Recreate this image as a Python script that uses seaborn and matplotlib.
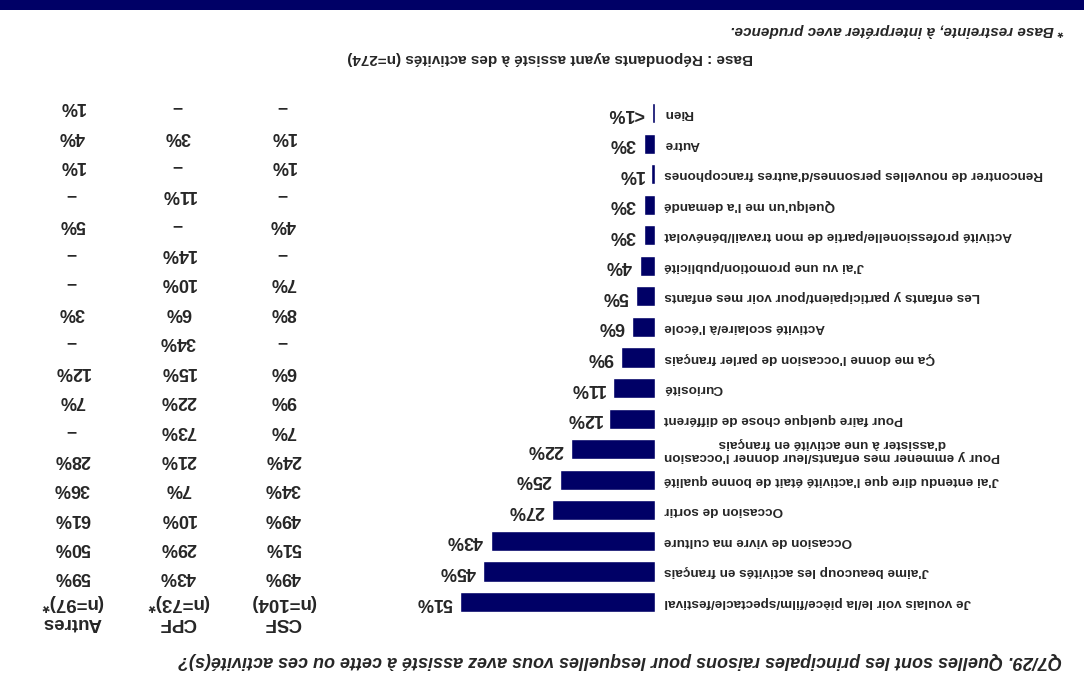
import numpy as np
import pandas as pd
import matplotlib
matplotlib.use("Agg")
import matplotlib.pyplot as plt
from matplotlib.patches import Rectangle
import seaborn as sns

# donnees (ordre original, du haut vers le bas avant rotation)
raisons = [
    "Je voulais voir le/la pièce/film/spectacle/festival",
    "J'aime beaucoup les activités en français",
    "Occasion de vivre ma culture",
    "Occasion de sortir",
    "J'ai entendu dire que l'activité était de bonne qualité",
    "Pour y emmener mes enfants/leur donner l'occasion\nd'assister à une activité en français",
    "Pour faire quelque chose de différent",
    "Curiosité",
    "Ça me donne l'occasion de parler français",
    "Activité scolaire/à l'école",
    "Les enfants y participaient/pour voir mes enfants",
    "J'ai vu une promotion/publicité",
    "Activité professionelle/partie de mon travail/bénévolat",
    "Quelqu'un me l'a demandé",
    "Rencontrer de nouvelles personnes/d'autres francophones",
    "Autre",
    "Rien",
]
total = [51, 45, 43, 27, 25, 22, 12, 11, 9, 6, 5, 4, 3, 3, 1, 3, 0.7]
total_etiq = ["51%", "45%", "43%", "27%", "25%", "22%", "12%", "11%", "9%", "6%",
              "5%", "4%", "3%", "3%", "1%", "3%", "<1%"]
csf = ["49%", "51%", "49%", "34%", "24%", "7%", "9%", "6%", "–", "8%",
       "7%", "–", "4%", "–", "1%", "1%", "–"]
cpf = ["43%", "29%", "10%", "7%", "21%", "73%", "22%", "15%", "34%", "6%",
       "10%", "14%", "–", "11%", "–", "3%", "–"]
autres = ["59%", "50%", "61%", "36%", "28%", "–", "7%", "12%", "–", "3%",
          "–", "–", "5%", "–", "1%", "4%", "1%"]
colonnes = [("CSF", "(n=104)", csf), ("CPF", "(n=73)*", cpf), ("Autres", "(n=97)*", autres)]

question = "Q7/29. Quelles sont les principales raisons pour lesquelles vous avez assisté à cette ou ces activité(s)?"
base_txt = "Base : Répondants ayant assisté à des activités (n=274)"
note_txt = "* Base restreinte, à interpréter avec prudence."

marine = "#000066"
W, H = 1084, 681

sns.set_style("white")
plt.rcParams['font.family'] = ['Liberation Sans', 'DejaVu Sans']

fig = plt.figure(figsize=(W / 100, H / 100), dpi=100)

def fx(px):
    return px / W

def fy(py):
    return 1 - py / H

# tout le graphique est retourne de 180 degres
rot = dict(rotation=180, rotation_mode='anchor')

fig.add_artist(Rectangle((0, fy(10)), 1, 10 / H, transform=fig.transFigure,
                         color=marine, lw=0))

pas = 30.56
ax = fig.add_axes([fx(655 - 382), fy(602 + pas / 2), fx(382), 17 * pas / H])
df = pd.DataFrame({"raison": raisons, "pct": total})
sns.barplot(data=df, x="pct", y="raison", orient="h", color=marine,
            saturation=1, width=0.66, ax=ax)
ax.set_xlim(100, 0)
ax.set_ylim(-0.5, len(raisons) - 0.5)
ax.axis('off')

for i, (lab, v, etiq) in enumerate(zip(raisons, total, total_etiq)):
    ax.annotate(lab, xy=(0, i), xytext=(6.5, 0), textcoords='offset points',
                ha='right', va='center', fontsize=9.7, fontweight='bold',
                multialignment='center', linespacing=1.1, **rot)
    ax.annotate(etiq, xy=(v, i), xytext=(-5.5, 0), textcoords='offset points',
                ha='left', va='center', fontsize=13, fontweight='bold', **rot)

# tableau par sous-groupe
x_cols = [283, 178, 72]
for (nom, n, vals), xc in zip(colonnes, x_cols):
    fig.text(fx(xc), fy(622), nom, ha='center', va='center', fontsize=13.5,
             fontweight='bold', **rot)
    fig.text(fx(xc), fy(603), n, ha='center', va='center', fontsize=13.5,
             fontweight='bold', **rot)
    for i, s in enumerate(vals):
        fig.text(fx(xc), fy(577 - i * 29.4), s, ha='center', va='center',
                 fontsize=13, fontweight='bold', **rot)

fig.text(fx(1062), fy(660), question, ha='left', va='center', fontsize=13,
         fontweight='bold', style='italic', **rot)
fig.text(fx(550), fy(58), base_txt, ha='center', va='center', fontsize=11,
         fontweight='bold', **rot)
fig.text(fx(1064), fy(30), note_txt, ha='left', va='center', fontsize=11,
         fontweight='bold', style='italic', **rot)

fig.savefig("out.png", dpi=100)
